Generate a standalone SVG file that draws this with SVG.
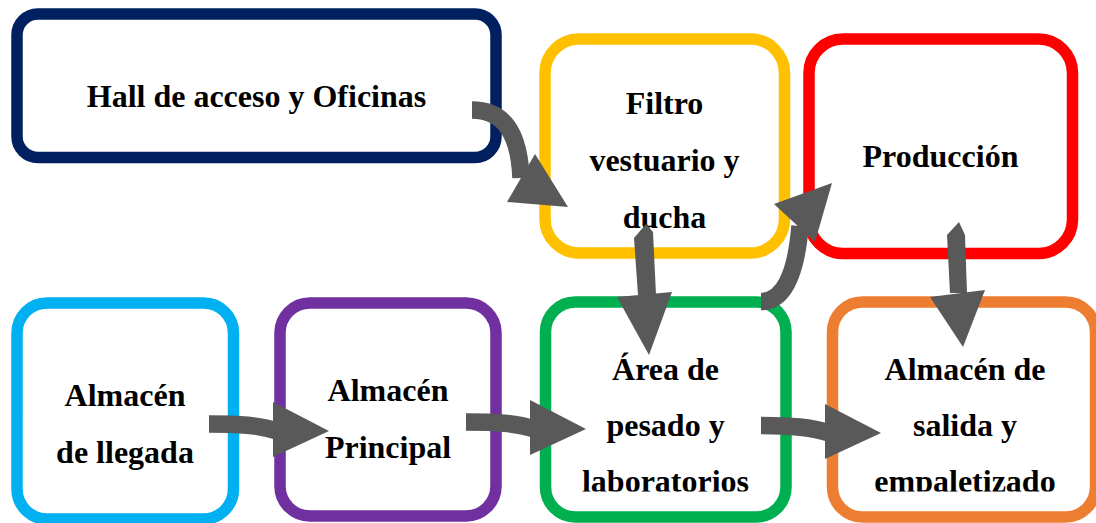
<svg xmlns="http://www.w3.org/2000/svg" width="1096" height="523" viewBox="0 0 1096 523">
<style>
.box{fill:#fff;stroke-width:11.5}
.t{font-family:"Liberation Serif","Times New Roman",serif;font-weight:bold;font-size:32px;fill:#000;text-anchor:middle}
.sh{fill:none;stroke:#595959;stroke-width:17.5}
.hd{fill:#595959}
</style>
<defs>
<clipPath id="clipA"><rect x="540" y="300" width="260" height="191.5"/></clipPath>
<clipPath id="clipS"><rect x="828" y="300" width="268" height="191.5"/></clipPath>
<clipPath id="clipF"><rect x="540" y="35" width="260" height="194"/></clipPath>
</defs>
<rect width="1096" height="523" fill="#fff"/>
<g id="node-hall">
<rect class="box" x="17" y="14" width="479" height="143.5" rx="21" stroke="#002060"/>
<text class="t" x="256.5" y="107">Hall de acceso y Oficinas</text>
</g>
<g id="node-filtro">
<rect class="box" x="545" y="39" width="239.5" height="214" rx="34" stroke="#FFC000"/>
<g clip-path="url(#clipF)">
<text class="t" x="664.5" y="114">Filtro</text>
<text class="t" x="664.5" y="171">vestuario y</text>
<text class="t" x="664.5" y="228">ducha</text>
</g>
</g>
<g id="node-produccion">
<rect class="box" x="809" y="39" width="263.5" height="214.5" rx="34" stroke="#FF0000"/>
<text class="t" x="940.5" y="167">Producción</text>
</g>
<g id="node-llegada">
<rect class="box" x="17" y="303" width="216.5" height="216" rx="30" stroke="#00B0F0"/>
<text class="t" x="125" y="406">Almacén</text>
<text class="t" x="125" y="463">de llegada</text>
</g>
<g id="node-principal">
<rect class="box" x="280" y="303" width="216" height="213" rx="30" stroke="#7030A0"/>
<text class="t" x="388" y="401">Almacén</text>
<text class="t" x="388" y="458">Principal</text>
</g>
<g id="node-area">
<rect class="box" x="545.5" y="302" width="240.5" height="215" rx="30" stroke="#00B050"/>
<g clip-path="url(#clipA)">
<text class="t" x="665.5" y="380">Área de</text>
<text class="t" x="665.5" y="436">pesado y</text>
<text class="t" x="665.5" y="492">laboratorios</text>
</g>
</g>
<g id="node-salida">
<rect class="box" x="832.5" y="302" width="263" height="215" rx="30" stroke="#ED7D31"/>
<g clip-path="url(#clipS)">
<text class="t" x="965" y="380">Almacén de</text>
<text class="t" x="965" y="436">salida y</text>
<text class="t" x="965" y="492">empaletizado</text>
</g>
</g>
<g id="connectors">
<path class="sh" d="M472,110 C500,110 519,128 521,178"/>
<polygon class="hd" points="507,202 535,154 568,207"/>
<polygon class="hd" points="634,238 646,224 653,232 656,295 638,295"/>
<polygon class="hd" points="617,297 672,292 649,355"/>
<path class="sh" d="M761,301.5 C783,301.5 796,276 800,226"/>
<polygon class="hd" points="774,204 832,183 815,242"/>
<polygon class="hd" points="947,235 959,222 965,235 967,293 950,293"/>
<polygon class="hd" points="930,297 985,290 963,347"/>
<path class="sh" d="M209,424 C239,424 259,425 277,431"/>
<polygon class="hd" points="273,402 329,431 273,457"/>
<path class="sh" d="M466,422 C496,422 516,423 534,429"/>
<polygon class="hd" points="530,400 586,429 530,455"/>
<path class="sh" d="M761,425.5 C791,425.5 811,427 829,433"/>
<polygon class="hd" points="825,404 881,433 825,459"/>
</g>
</svg>
